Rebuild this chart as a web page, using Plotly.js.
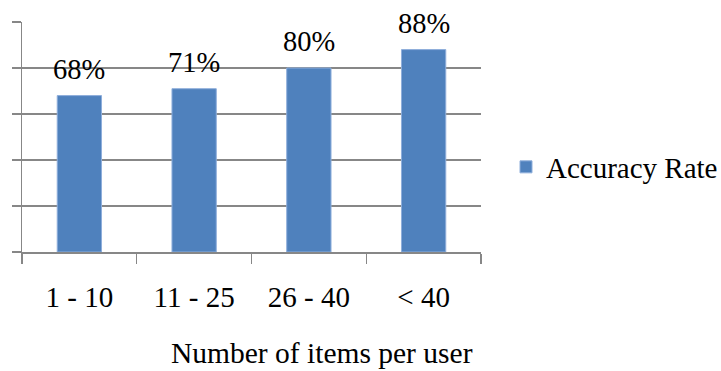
<!DOCTYPE html>
<html>
<head>
<meta charset="utf-8">
<script src="https://cdn.plot.ly/plotly-3.0.1.min.js"></script>
<style>html,body{margin:0;padding:0;background:#fff;}#chart{width:721px;height:371px;}</style>
</head>
<body>
<div id="chart"></div>
<script>
var categories = ["1 - 10", "11 - 25", "26 - 40", "< 40"];
var accuracyRate = [0.68, 0.71, 0.80, 0.88];
var dataLabels = ["68%", "71%", "80%", "88%"];
var seriesName = "Accuracy Rate";
var xAxisTitle = "Number of items per user";

var FONT = '"Liberation Serif", "Times New Roman", serif';
var GRID = '#878787';

var trace = {
  type: 'bar',
  x: categories,
  y: accuracyRate,
  name: seriesName,
  width: 0.386,
  marker: {color: '#4F81BD', line: {color: '#8EAEDB', width: 1}},
  hoverinfo: 'skip',
  showlegend: true
};

var annotations = categories.map(function (c, i) {
  return {
    x: c, y: accuracyRate[i], xref: 'x', yref: 'y',
    text: dataLabels[i], showarrow: false,
    yanchor: 'bottom', yshift: 9,
    font: {family: FONT, size: 28.5, color: '#000'}
  };
});
annotations.push({
  x: (322 - 22) / 459, y: (252 - 353) / 230, xref: 'paper', yref: 'paper',
  text: xAxisTitle, showarrow: false, xanchor: 'center', yanchor: 'middle',
  font: {family: FONT, size: 29.5, color: '#000'}
});

var layout = {
  width: 721, height: 371,
  margin: {l: 22, r: 240, t: 22, b: 119, pad: 0, autoexpand: false},
  paper_bgcolor: '#fff', plot_bgcolor: '#fff',
  font: {family: FONT, size: 29, color: '#000'},
  bargap: 0.614,
  xaxis: {
    type: 'category',
    range: [-0.5, 3.5],
    showline: true, linecolor: GRID, linewidth: 1.5,
    ticks: 'outside', ticklen: 10, tickcolor: GRID, tickwidth: 1.3,
    tickson: 'boundaries',
    showgrid: false, zeroline: false,
    ticklabelstandoff: 19,
    tickfont: {family: FONT, size: 29, color: '#000'}
  },
  yaxis: {
    range: [0, 1], dtick: 0.2, tick0: 0,
    showline: true, linecolor: GRID, linewidth: 1.5,
    ticks: 'outside', ticklen: 9, tickcolor: GRID, tickwidth: 1.3,
    showgrid: true, gridcolor: GRID, gridwidth: 1.3,
    zeroline: false, showticklabels: false
  },
  legend: {
    x: (506 - 22) / 459, xanchor: 'left',
    y: (252 - 167) / 230, yanchor: 'middle',
    bgcolor: 'rgba(0,0,0,0)', borderwidth: 0,
    font: {family: FONT, size: 29, color: '#000'}
  },
  annotations: annotations,
  showlegend: true
};

Plotly.newPlot('chart', [trace], layout, {staticPlot: true, displayModeBar: false});
</script>
</body>
</html>
